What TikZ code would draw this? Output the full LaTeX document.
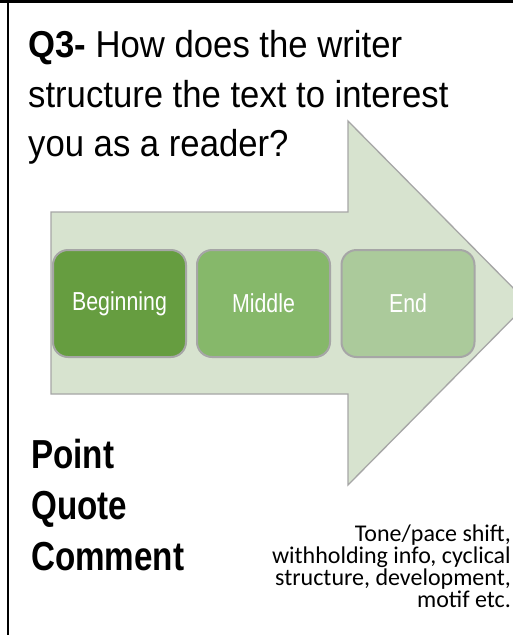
\documentclass[tikz,border=0pt]{standalone}
\usepackage{fontspec}
\setmainfont{Liberation Sans}
\newfontfamily\narrowfont[FakeStretch=0.82]{Liberation Sans}
\newfontfamily\titlefont[FakeStretch=0.925]{Liberation Sans}
\newfontfamily\calfont{Carlito}
\definecolor{arrowfill}{HTML}{D7E3CF}
\definecolor{edgegray}{HTML}{A6A6A6}
\definecolor{begfill}{HTML}{669D40}
\definecolor{midfill}{HTML}{86B86A}
\definecolor{endfill}{HTML}{ABCA9B}
\tikzset{
  stagebox/.style={draw=edgegray, line width=2pt, rounded corners=15pt,
    minimum width=133pt, minimum height=107pt, inner sep=0pt,
    text=white, font=\narrowfont\fontsize{26}{30}\selectfont},
  titleline/.style={anchor=base west, inner sep=0pt, font=\titlefont\fontsize{37.5}{42}\selectfont},
  pqc/.style={anchor=base west, inner sep=0pt, font=\narrowfont\bfseries\fontsize{40.5}{46}\selectfont},
  noteline/.style={anchor=base east, inner sep=0pt, font=\calfont\fontsize{24}{26}\selectfont},
}
\begin{document}
\begin{tikzpicture}[x=1pt, y=-1pt]
\useasboundingbox (0,0) rectangle (513,635);
\clip (0,0) rectangle (513,635);
\fill[white] (0,0) rectangle (513,635);
% frame lines
\draw[line width=2.6pt, black] (0,1.4) -- (513,1.4);
\draw[line width=2.6pt, black] (8,0) -- (8,635);
% big arrow
\draw[fill=arrowfill, draw=edgegray, line width=1.3pt, line join=miter]
  (51,212) -- (348,212) -- (348,121) -- (528,303) -- (348,485) -- (348,394) -- (51,394) -- cycle;
% stages
\node[stagebox, fill=begfill] (beg) at (119.5,303.5) {Beginning};
\node[stagebox, fill=midfill] (mid) at (263.5,303.5) {Middle};
\node[stagebox, fill=endfill] (end) at (408,303.5) {End};
% title
\node[titleline] (t1) at (28,57) {\textbf{Q3-} How does the writer};
\node[titleline] (t2) at (28,107) {structure the text to interest};
\node[titleline] (t3) at (28,156) {you as a reader?};
% PQC
\node[pqc] (p1) at (31,468) {Point};
\node[pqc] (p2) at (31,519) {Quote};
\node[pqc] (p3) at (31,570) {Comment};
% note
\node[noteline] (n1) at (511,541) {Tone/pace shift,};
\node[noteline] (n2) at (511,563) {withholding info, cyclical};
\node[noteline] (n3) at (511,585) {structure, development,};
\node[noteline] (n4) at (511,607) {motif etc.};
\end{tikzpicture}
\end{document}
